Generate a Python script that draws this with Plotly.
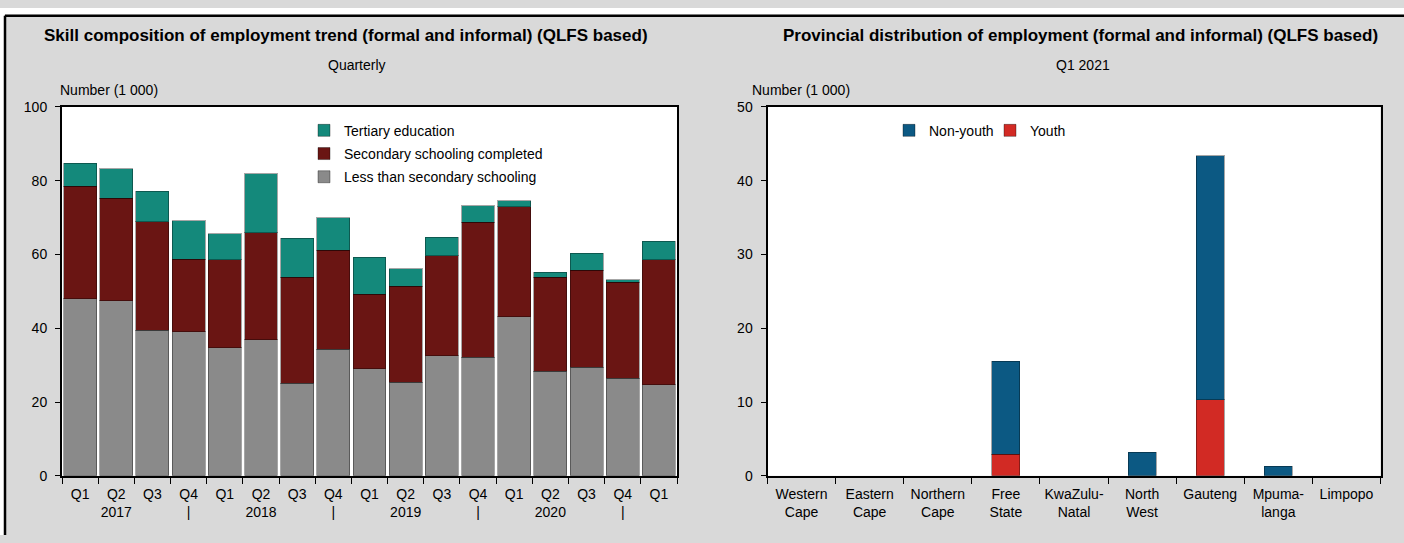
import plotly.graph_objects as go

# ---------------- data: left chart ----------------
periods = ["Q1 2017", "Q2 2017", "Q3 2017", "Q4 2017",
           "Q1 2018", "Q2 2018", "Q3 2018", "Q4 2018",
           "Q1 2019", "Q2 2019", "Q3 2019", "Q4 2019",
           "Q1 2020", "Q2 2020", "Q3 2020", "Q4 2020",
           "Q1 2021"]
period_ticks = ["Q1", "Q2<br>2017", "Q3", "Q4<br>|",
                "Q1", "Q2<br>2018", "Q3", "Q4<br>|",
                "Q1", "Q2<br>2019", "Q3", "Q4<br>|",
                "Q1", "Q2<br>2020", "Q3", "Q4<br>|",
                "Q1"]
less_than_secondary = [48.0, 47.4, 39.4, 39.1, 34.7, 36.9, 25.1, 34.3, 29.0,
                       25.3, 32.5, 32.1, 43.1, 28.4, 29.5, 26.4, 24.7]
secondary_completed = [30.5, 27.9, 29.5, 19.6, 23.9, 29.0, 28.8, 26.8, 20.2,
                       26.1, 27.2, 36.7, 29.8, 25.4, 26.3, 26.1, 33.9]
tertiary = [6.3, 7.9, 8.3, 10.5, 7.0, 16.0, 10.5, 8.9, 10.1,
            4.7, 5.0, 4.4, 1.7, 1.4, 4.6, 0.7, 5.0]

# ---------------- data: right chart ----------------
provinces = ["Western Cape", "Eastern Cape", "Northern Cape", "Free State",
             "KwaZulu-Natal", "North West", "Gauteng", "Mpumalanga", "Limpopo"]
province_ticks = ["Western<br>Cape", "Eastern<br>Cape", "Northern<br>Cape",
                  "Free<br>State", "KwaZulu-<br>Natal", "North<br>West",
                  "Gauteng", "Mpuma-<br>langa", "Limpopo"]
youth = [0, 0, 0, 2.95, 0, 0, 10.3, 0, 0]
non_youth = [0, 0, 0, 12.55, 0, 3.2, 33.1, 1.3, 0]

FONT = "Liberation Sans, Arial, sans-serif"
W, H = 1404, 543


def fx(px):  # pixel x -> paper fraction
    return px / W


def fy(py):  # pixel y (from top) -> paper fraction
    return 1 - py / H


BORDER = "rgba(0,0,0,0.35)"


def nz(vals):
    return [v if v else None for v in vals]


fig = go.Figure()

# left stacked bars
fig.add_trace(go.Bar(x=periods, y=less_than_secondary, name="Less than secondary schooling",
                     marker=dict(color="#8a8a8a", line=dict(color=BORDER, width=1)),
                     xaxis="x", yaxis="y", legend="legend", legendgroup="a", legendrank=3))
fig.add_trace(go.Bar(x=periods, y=secondary_completed, name="Secondary schooling completed",
                     marker=dict(color="#6a1513", line=dict(color=BORDER, width=1)),
                     xaxis="x", yaxis="y", legend="legend", legendgroup="b", legendrank=2))
fig.add_trace(go.Bar(x=periods, y=tertiary, name="Tertiary education",
                     marker=dict(color="#14897b", line=dict(color=BORDER, width=1)),
                     xaxis="x", yaxis="y", legend="legend", legendgroup="c", legendrank=1))

# right stacked bars
fig.add_trace(go.Bar(x=provinces, y=nz(youth), name="Youth", width=0.41,
                     marker=dict(color="#d22a24", line=dict(color=BORDER, width=1)),
                     xaxis="x2", yaxis="y2", legend="legend3"))
fig.add_trace(go.Bar(x=provinces, y=nz(non_youth), name="Non-youth", width=0.41,
                     marker=dict(color="#0c5983", line=dict(color=BORDER, width=1)),
                     xaxis="x2", yaxis="y2", legend="legend2"))

ydom = [fy(482), fy(102)]
axis_common = dict(showline=True, linecolor="black", linewidth=2, mirror=True,
                   showgrid=False, zeroline=False,
                   tickfont=dict(family=FONT, size=14, color="black"),
                   ticks="outside", tickcolor="black", tickwidth=1)
legend_font = dict(family=FONT, size=14, color="black")

fig.update_layout(
    width=W, height=H,
    margin=dict(l=0, r=0, t=0, b=0),
    paper_bgcolor="#d9d9d9", plot_bgcolor="white",
    barmode="stack",
    font=dict(family=FONT, size=14, color="black"),
    xaxis=dict(domain=[fx(62), fx(677)], anchor="y", type="category",
               tickmode="array", tickvals=periods, ticktext=period_ticks,
               tickson="boundaries", ticklen=6, tickangle=0, ticklabelstandoff=4,
               **axis_common),
    yaxis=dict(domain=ydom, anchor="x", range=[0, 100], dtick=20, ticklen=5,
               ticklabelstandoff=5, **axis_common),
    xaxis2=dict(domain=[fx(767.5), fx(1380.5)], anchor="y2", type="category",
                tickmode="array", tickvals=provinces, ticktext=province_ticks,
                tickson="boundaries", ticklen=6, tickangle=0, ticklabelstandoff=4,
                **axis_common),
    yaxis2=dict(domain=ydom, anchor="x2", range=[0, 50], dtick=10, ticklen=5,
                ticklabelstandoff=5, **axis_common),
    bargap=0.09,
    legend=dict(x=fx(304), y=fy(110), xanchor="left", yanchor="top",
                orientation="v", traceorder="grouped", bgcolor="rgba(0,0,0,0)",
                font=legend_font, itemwidth=30, tracegroupgap=2),
    legend2=dict(x=fx(889), y=fy(110), xanchor="left", yanchor="top",
                 orientation="h", bgcolor="rgba(0,0,0,0)",
                 font=legend_font, itemwidth=30),
    legend3=dict(x=fx(990), y=fy(110), xanchor="left", yanchor="top",
                 orientation="h", bgcolor="rgba(0,0,0,0)",
                 font=legend_font, itemwidth=30),
    showlegend=True,
)


def px_ann(text, x, y, size=14, bold=False, xanchor="center"):
    fig.add_annotation(text=f"<b>{text}</b>" if bold else text,
                       x=fx(x), y=fy(y), xref="paper", yref="paper",
                       xanchor=xanchor, yanchor="middle", showarrow=False,
                       font=dict(family=FONT, size=size, color="black"))


px_ann("Skill composition of employment trend (formal and informal) (QLFS based)", 346, 28, 17, True)
px_ann("Quarterly", 357, 59)
px_ann("Number (1 000)", 58, 84, xanchor="left")
px_ann("Provincial distribution of employment (formal and informal) (QLFS based)", 1080, 28, 17, True)
px_ann("Q1 2021", 1083, 59)
px_ann("Number (1 000)", 750, 84, xanchor="left")

# white strips outside the frame, and the frame lines on top and left
fig.add_shape(type="rect", xref="paper", yref="paper", x0=0, x1=1, y0=fy(7), y1=1,
              fillcolor="white", line=dict(width=0), layer="below")
fig.add_shape(type="rect", xref="paper", yref="paper", x0=0, x1=fx(4), y0=0, y1=1,
              fillcolor="white", line=dict(width=0), layer="below")
fig.add_shape(type="line", xref="paper", yref="paper", x0=fx(5), x1=1, y0=fy(8), y1=fy(8),
              line=dict(color="black", width=2.5))
fig.add_shape(type="line", xref="paper", yref="paper", x0=fx(5), x1=fx(5), y0=0, y1=fy(8),
              line=dict(color="black", width=2.5))

# pin the figure to the top-left corner of the page (no body margin)
post = ("document.body.style.margin='0';"
        "var gd=document.getElementById('{plot_id}');"
        "gd.style.position='fixed';gd.style.left='0px';gd.style.top='0px';")
fig.write_html("out.html", post_script=post, config={"displayModeBar": False})
